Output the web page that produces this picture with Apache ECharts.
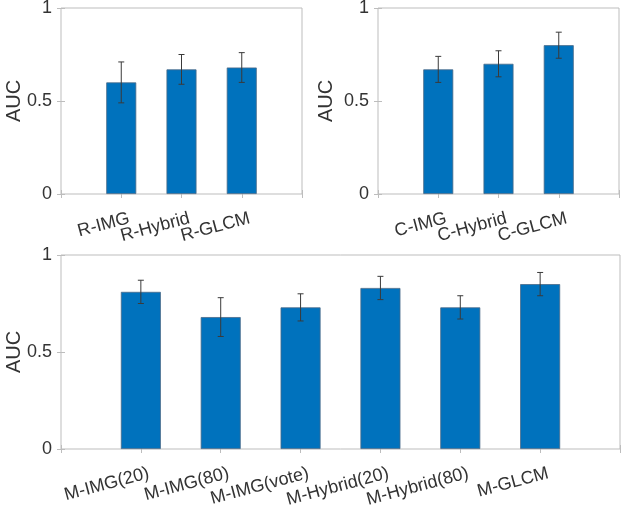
<!DOCTYPE html>
<html><head><meta charset="utf-8">
<script src="https://cdn.jsdelivr.net/npm/echarts@6/dist/echarts.min.js"></script>
<style>html,body{margin:0;padding:0;background:#fff}#c{width:625px;height:515px}</style>
</head><body><div id="c"></div>
<script>
// Panel R
const catsR = ['R-IMG', 'R-Hybrid', 'R-GLCM'];
const aucR = [0.60, 0.67, 0.68];
const lowR = [0.49, 0.59, 0.60];
const highR = [0.71, 0.75, 0.76];
// Panel C
const catsC = ['C-IMG', 'C-Hybrid', 'C-GLCM'];
const aucC = [0.67, 0.70, 0.80];
const lowC = [0.60, 0.63, 0.73];
const highC = [0.74, 0.77, 0.87];
// Panel M
const catsM = ['M-IMG(20)', 'M-IMG(80)', 'M-IMG(vote)', 'M-Hybrid(20)', 'M-Hybrid(80)', 'M-GLCM'];
const aucM = [0.81, 0.68, 0.73, 0.83, 0.73, 0.85];
const lowM = [0.75, 0.58, 0.66, 0.77, 0.67, 0.79];
const highM = [0.87, 0.78, 0.80, 0.89, 0.79, 0.91];
const yTicks = [0, 0.5, 1];
const yTitle = 'AUC';

const FONT = 'Liberation Sans, Arial, sans-serif';
const TXT = '#333';
const BOX = '#bdbdbd';
const BAR = '#0072BD';

const panels = [
  {cats: catsR, auc: aucR, low: lowR, high: highR, grid: {left: 61, top: 8, right: 323, bottom: 321}, bw: 30, nameX: 14, nameY: 101},
  {cats: catsC, auc: aucC, low: lowC, high: highC, grid: {left: 378, top: 8, right: 6, bottom: 321}, bw: 30, nameX: 326, nameY: 101},
  {cats: catsM, auc: aucM, low: lowM, high: highM, grid: {left: 61, top: 255, right: 5, bottom: 66}, bw: 40, nameX: 14, nameY: 352}
];

const grid = [], xAxis = [], yAxis = [], series = [], graphic = [];
panels.forEach((p, i) => {
  const n = p.cats.length;
  const gi = grid.length;
  grid.push(Object.assign({show: true, borderColor: BOX, borderWidth: 1, backgroundColor: '#fff', outerBoundsMode: 'none', containLabel: false}, p.grid));
  // label-only grid shifted right, matching MATLAB's label anchoring
  const lg = grid.length;
  grid.push({show: false, outerBoundsMode: 'none', containLabel: false, top: p.grid.top, bottom: p.grid.bottom, left: p.grid.left + 8, right: p.grid.right - 8});

  graphic.push({
    type: 'text', x: p.nameX, y: p.nameY, rotation: Math.PI / 2, silent: true,
    style: {text: yTitle, fontSize: 20, fill: TXT, fontFamily: FONT, align: 'center', verticalAlign: 'middle'}
  });

  const xi = xAxis.length;
  xAxis.push({
    type: 'value', gridIndex: gi, min: 0, max: n + 1, interval: 1,
    axisLine: {show: false}, splitLine: {show: false},
    axisTick: {inside: true, length: 4, lineStyle: {color: BOX}},
    axisLabel: {show: false}
  });
  xAxis.push({
    type: 'value', gridIndex: gi, position: 'top', min: 0, max: n + 1, interval: 1,
    axisLine: {show: false}, splitLine: {show: false},
    axisTick: {inside: true, length: 4, lineStyle: {color: BOX}},
    axisLabel: {show: false}
  });
  xAxis.push({
    type: 'value', gridIndex: lg, min: 0, max: n + 1, interval: 1,
    axisLine: {show: false}, splitLine: {show: false}, axisTick: {show: false},
    axisLabel: {
      rotate: 15, margin: 24, fontSize: 18, color: TXT, fontFamily: FONT,
      formatter: v => (v >= 1 && v <= n) ? p.cats[v - 1] : ''
    }
  });
  const yi = yAxis.length;
  yAxis.push({
    type: 'value', gridIndex: gi, min: 0, max: 1, interval: 0.5,
    axisLine: {show: false}, splitLine: {show: false},
    axisTick: {inside: true, length: 4, lineStyle: {color: BOX}},
    axisLabel: {fontSize: 18, color: TXT, fontFamily: FONT, margin: 9,
      formatter: v => yTicks.indexOf(v) >= 0 ? String(v) : ''}
  });
  yAxis.push({
    type: 'value', gridIndex: gi, position: 'right', min: 0, max: 1, interval: 0.5,
    axisLine: {show: false}, splitLine: {show: false},
    axisTick: {inside: true, length: 4, lineStyle: {color: BOX}},
    axisLabel: {show: false}
  });
  yAxis.push({
    type: 'value', gridIndex: lg, min: 0, max: 1, show: false
  });
  series.push({
    type: 'bar', xAxisIndex: xi, yAxisIndex: yi, barWidth: p.bw,
    data: p.auc.map((v, k) => [k + 1, v]),
    itemStyle: {color: BAR, borderColor: '#4a6a88', borderWidth: 0.8},
    silent: true
  });
  series.push({
    type: 'custom', xAxisIndex: xi, yAxisIndex: yi, silent: true, z: 5,
    data: p.auc.map((v, k) => [k + 1, p.low[k], p.high[k]]),
    renderItem: (params, api) => {
      const x = api.value(0);
      const lo = api.coord([x, api.value(1)]);
      const hi = api.coord([x, api.value(2)]);
      const cw = 3;
      const st = {stroke: '#3a3a3a', lineWidth: 1};
      return {type: 'group', children: [
        {type: 'line', shape: {x1: lo[0], y1: lo[1], x2: hi[0], y2: hi[1]}, style: st},
        {type: 'line', shape: {x1: lo[0] - cw, y1: lo[1], x2: lo[0] + cw, y2: lo[1]}, style: st},
        {type: 'line', shape: {x1: hi[0] - cw, y1: hi[1], x2: hi[0] + cw, y2: hi[1]}, style: st}
      ]};
    }
  });
});

const chart = echarts.init(document.getElementById('c'), null, {renderer: 'canvas'});
chart.setOption({animation: false, backgroundColor: '#fff', grid, xAxis, yAxis, series, graphic});
</script>
</body></html>
